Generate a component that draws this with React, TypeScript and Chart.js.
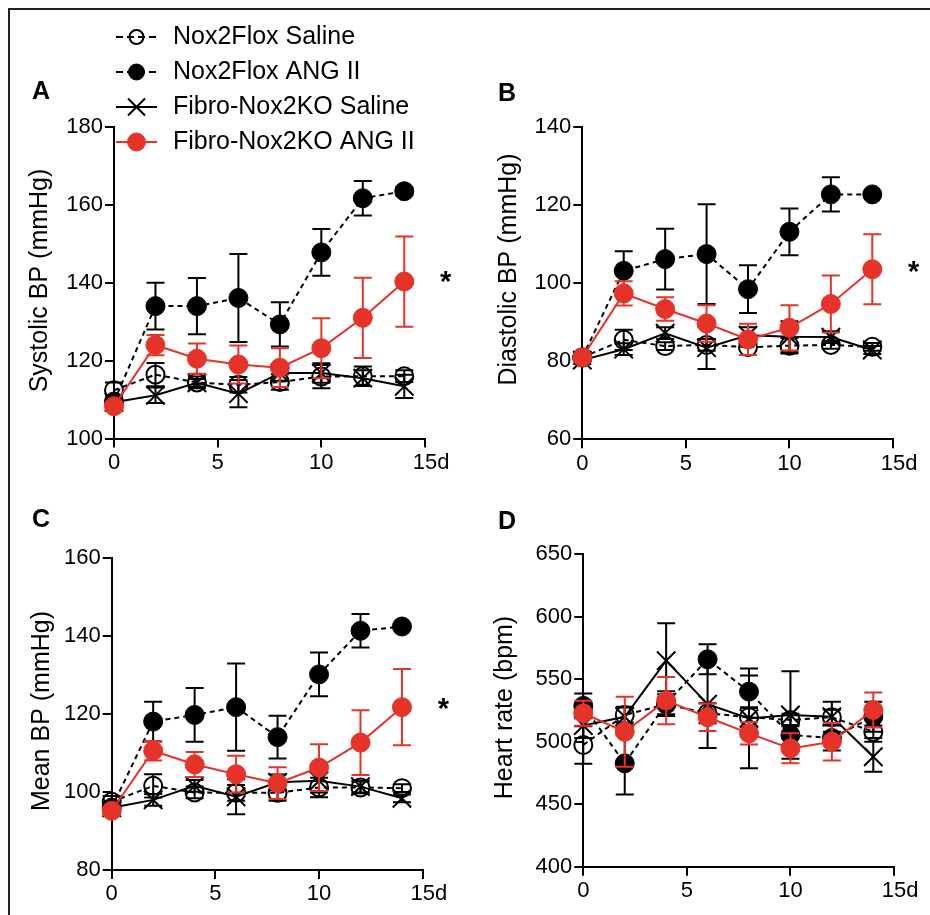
import React, { useEffect, useRef } from "react";
import { Chart, registerables } from "chart.js";

Chart.register(...registerables);

const FONT = '"Liberation Sans", Arial, Helvetica, sans-serif';
const RED = "#e5332a";
const BLACK = "#000000";

// ---------- data ----------
const days = [0, 2, 4, 6, 8, 10, 12, 14];
const seriesNames = ["Nox2Flox Saline", "Nox2Flox ANG II", "Fibro-Nox2KO Saline", "Fibro-Nox2KO ANG II"];
const panelLetters = ["A", "B", "C", "D"];
const yTitles = ["Systolic BP (mmHg)", "Diastolic BP (mmHg)", "Mean BP (mmHg)", "Heart rate (bpm)"];
const yMins = [100, 60, 80, 400];
const yMaxs = [180, 140, 160, 650];
const ySteps = [20, 20, 20, 50];
const xMax = 15;
const xStep = 5;
const xUnit = "d";
const starDay = 16;
const starValues = [142, 104.7, 123, null];

// Panel A: systolic BP
const sbpFloxSaline = [112.4, 116.4, 114.4, 113.8, 114.5, 115.9, 116.0, 116.0];
const sbpFloxSalineErr = [2, 3, 1.5, 2, 2, 3, 2.5, 1.5];
const sbpFloxAng = [109.5, 134.0, 134.0, 136.1, 129.3, 147.8, 161.7, 163.5];
const sbpFloxAngErr = [1.5, 6, 7.2, 11.3, 5.7, 6, 4.4, 1];
const sbpKoSaline = [109.3, 111.1, 114.3, 111.5, 116.8, 116.8, 115.5, 113.4];
const sbpKoSalineErr = [1, 2, 1, 3.5, 2, 2.5, 2, 3];
const sbpKoAng = [108.3, 124.0, 120.5, 119.0, 118.2, 123.2, 131.0, 140.3];
const sbpKoAngErr = [1, 2.6, 3.9, 4.9, 5, 7.7, 10.3, 11.6];

// Panel B: diastolic BP
const dbpFloxSaline = [81.0, 85.5, 83.9, 84.2, 83.6, 84.0, 84.2, 83.7];
const dbpFloxSalineErr = [1, 2.6, 1, 1.5, 2, 2, 1, 1];
const dbpFloxAng = [81.0, 103.2, 106.2, 107.5, 98.5, 113.2, 122.8, 122.8];
const dbpFloxAngErr = [1, 5, 7.8, 12.8, 6.1, 6, 4.4, 0.5];
const dbpKoSaline = [80.3, 83.1, 87.2, 83.5, 86.7, 86.3, 86.2, 82.9];
const dbpKoSalineErr = [1, 1.5, 1.5, 5.5, 2, 4, 1.5, 1];
const dbpKoAng = [81.0, 97.4, 93.4, 89.7, 85.6, 88.6, 94.7, 103.6];
const dbpKoAngErr = [1, 3.1, 3, 4.7, 4, 5.8, 7.3, 9];

// Panel C: mean BP
const mbpFloxSaline = [97.5, 101.6, 99.9, 99.8, 99.8, 101.2, 101.2, 101.0];
const mbpFloxSalineErr = [1.5, 3, 1.5, 2, 2, 2.5, 1.5, 1];
const mbpFloxAng = [96.0, 118.1, 119.8, 121.8, 114.1, 130.2, 141.4, 142.5];
const mbpFloxAngErr = [1, 5.1, 6.9, 11.2, 5.5, 5.6, 4.3, 0.5];
const mbpKoSaline = [96.0, 98.0, 101.6, 98.8, 102.5, 102.9, 101.4, 98.4];
const mbpKoSalineErr = [1, 1.5, 1.5, 4.5, 2, 3, 1.5, 1];
const mbpKoAng = [95.2, 110.6, 107.1, 104.6, 102.3, 106.3, 112.7, 121.8];
const mbpKoAngErr = [1, 2.5, 3.2, 4.7, 4.1, 6, 8.3, 9.8];

// Panel D: heart rate
const hrFloxSaline = [497.4, 521.4, 530.0, 522.8, 519.6, 517.4, 519.6, 508.0];
const hrFloxSalineErr = [15, 6, 8, 8, 8, 5, 6, 5];
const hrFloxAng = [528.7, 482.7, 530.5, 566.0, 540.1, 505.4, 503.0, 520.0];
const hrFloxAngErr = [10, 25, 10, 12, 13, 8, 10, 12];
const hrKoSaline = [513.0, 520.0, 564.9, 530.0, 518.7, 521.4, 520.0, 488.0];
const hrKoSalineErr = [10, 8, 30, 35, 40, 35, 12, 12];
const hrKoAng = [522.8, 508.0, 532.9, 519.6, 506.7, 494.7, 500.0, 525.4];
const hrKoAngErr = [10, 28, 19, 11, 9, 12, 15, 14];

const panelValues = [
  [sbpFloxSaline, sbpFloxAng, sbpKoSaline, sbpKoAng],
  [dbpFloxSaline, dbpFloxAng, dbpKoSaline, dbpKoAng],
  [mbpFloxSaline, mbpFloxAng, mbpKoSaline, mbpKoAng],
  [hrFloxSaline, hrFloxAng, hrKoSaline, hrKoAng],
];
const panelErrors = [
  [sbpFloxSalineErr, sbpFloxAngErr, sbpKoSalineErr, sbpKoAngErr],
  [dbpFloxSalineErr, dbpFloxAngErr, dbpKoSalineErr, dbpKoAngErr],
  [mbpFloxSalineErr, mbpFloxAngErr, mbpKoSalineErr, mbpKoAngErr],
  [hrFloxSalineErr, hrFloxAngErr, hrKoSalineErr, hrKoAngErr],
];

// ---------- styles / layout ----------
type SeriesStyle = {
  color: string;
  dash: number[];
  pointStyle: string;
  radius: number;
  fill: string;
  pbw: number;
  order: number;
  legendRadius: number;
};
const seriesStyles: SeriesStyle[] = [
  { color: BLACK, dash: [5, 4], pointStyle: "circle", radius: 9, fill: "rgba(0,0,0,0)", pbw: 2, order: 3, legendRadius: 7 },
  { color: BLACK, dash: [5, 4], pointStyle: "circle", radius: 9.5, fill: BLACK, pbw: 1, order: 1, legendRadius: 8 },
  { color: BLACK, dash: [], pointStyle: "crossRot", radius: 13, fill: BLACK, pbw: 2, order: 2, legendRadius: 12 },
  { color: RED, dash: [], pointStyle: "circle", radius: 9.5, fill: RED, pbw: 1, order: 0, legendRadius: 9 },
];

type Geo = {
  left: number; top: number; w: number; h: number;
  yW: number; padTop: number; padRight: number; padBottom: number;
  titleX: number; titleY: number; letterX: number; letterY: number;
};
const geos: Geo[] = [
  { left: 0, top: 0, w: 465, h: 500, yW: 114, padTop: 127, padRight: 40, padBottom: 21.5, titleX: 40, titleY: 280.5, letterX: 41, letterY: 92 },
  { left: 465, top: 0, w: 465, h: 500, yW: 117.3, padTop: 127.3, padRight: 37, padBottom: 20.7, titleX: 44.5, titleY: 269.5, letterX: 42, letterY: 94 },
  { left: 0, top: 470, w: 465, h: 445, yW: 111.7, padTop: 88.3, padRight: 42.3, padBottom: 5, titleX: 42.5, titleY: 241, letterX: 41, letterY: 50 },
  { left: 465, top: 470, w: 465, h: 445, yW: 118.3, padTop: 84.3, padRight: 36, padBottom: 8.3, titleX: 40, titleY: 237.5, letterX: 42, letterY: 52 },
];
const X_AXIS_H = 40;
const legendRows = [37, 72, 107, 142];

function drawMarker(ctx: CanvasRenderingContext2D, st: SeriesStyle, x: number, y: number, r: number) {
  ctx.save();
  ctx.setLineDash([]);
  ctx.strokeStyle = st.color;
  ctx.fillStyle = st.fill;
  ctx.lineWidth = st.pbw;
  if (st.pointStyle === "crossRot") {
    const o = r * Math.SQRT1_2;
    ctx.beginPath();
    ctx.moveTo(x - o, y - o);
    ctx.lineTo(x + o, y + o);
    ctx.moveTo(x - o, y + o);
    ctx.lineTo(x + o, y - o);
    ctx.stroke();
  } else {
    ctx.beginPath();
    ctx.arc(x, y, r, 0, Math.PI * 2);
    ctx.fill();
    ctx.stroke();
  }
  ctx.restore();
}

const errorBarPlugin = {
  id: "errorBars",
  beforeDatasetDraw(chart: any, args: any) {
    const ds = chart.data.datasets[args.index];
    const errs: number[] | undefined = ds.errors;
    if (!errs) return;
    const xs = chart.scales.x;
    const ys = chart.scales.y;
    const ctx: CanvasRenderingContext2D = chart.ctx;
    ctx.save();
    ctx.strokeStyle = ds.borderColor;
    ctx.lineWidth = 2;
    ctx.setLineDash([]);
    ds.data.forEach((pt: any, i: number) => {
      const e = errs[i];
      if (!e) return;
      const x = xs.getPixelForValue(pt.x);
      const y1 = ys.getPixelForValue(pt.y + e);
      const y2 = ys.getPixelForValue(pt.y - e);
      ctx.beginPath();
      ctx.moveTo(x, y1);
      ctx.lineTo(x, y2);
      ctx.moveTo(x - 9, y1);
      ctx.lineTo(x + 9, y1);
      ctx.moveTo(x - 9, y2);
      ctx.lineTo(x + 9, y2);
      ctx.stroke();
    });
    ctx.restore();
  },
};

const decoPlugin = {
  id: "deco",
  afterDraw(chart: any, _args: any, opts: any) {
    const ctx: CanvasRenderingContext2D = chart.ctx;
    ctx.save();
    ctx.fillStyle = BLACK;
    ctx.textBaseline = "middle";
    ctx.textAlign = "center";
    // panel letter
    ctx.font = `bold 25px ${FONT}`;
    ctx.fillText(opts.letter, opts.letterX, opts.letterY);
    // y-axis title
    ctx.save();
    ctx.font = `25px ${FONT}`;
    ctx.translate(opts.titleX, opts.titleY);
    ctx.rotate(-Math.PI / 2);
    ctx.fillText(opts.title, 0, 0);
    ctx.restore();
    // significance star
    if (opts.star !== null && opts.star !== undefined) {
      ctx.font = `bold 29px ${FONT}`;
      const x = chart.scales.x.getPixelForValue(starDay);
      const y = chart.scales.y.getPixelForValue(opts.star);
      ctx.fillText("*", x, y + 8);
    }
    // legend
    if (opts.legend) {
      ctx.font = `25px ${FONT}`;
      ctx.textAlign = "left";
      seriesNames.forEach((name, k) => {
        const st = seriesStyles[k];
        const y = legendRows[k];
        ctx.save();
        ctx.strokeStyle = st.color;
        ctx.lineWidth = 2;
        ctx.setLineDash(st.dash.length ? [7, 4] : []);
        ctx.beginPath();
        ctx.moveTo(116, y);
        ctx.lineTo(157, y);
        ctx.stroke();
        ctx.restore();
        drawMarker(ctx, st, 136.5, y, st.legendRadius);
        ctx.fillStyle = BLACK;
        ctx.fillText(name, 173, y);
      });
    }
    ctx.restore();
  },
};

function buildConfig(idx: number): any {
  const g = geos[idx];
  const datasets = seriesNames.map((name, k) => {
    const st = seriesStyles[k];
    return {
      label: name,
      data: days.map((d, i) => ({ x: d, y: panelValues[idx][k][i] })),
      errors: panelErrors[idx][k],
      borderColor: st.color,
      borderWidth: 2,
      borderDash: st.dash,
      tension: 0,
      fill: false,
      pointStyle: st.pointStyle,
      pointRadius: st.radius,
      pointHoverRadius: st.radius,
      pointBackgroundColor: st.fill,
      pointBorderColor: st.color,
      pointBorderWidth: st.pbw,
      order: st.order,
      clip: false,
    };
  });
  const tickFont = { family: FONT, size: 22 };
  return {
    type: "line",
    data: { datasets },
    plugins: [errorBarPlugin, decoPlugin],
    options: {
      responsive: false,
      animation: false,
      events: [],
      layout: { padding: { top: g.padTop, right: g.padRight, bottom: g.padBottom, left: 0 } },
      plugins: {
        legend: { display: false },
        tooltip: { enabled: false },
        deco: {
          letter: panelLetters[idx],
          letterX: g.letterX,
          letterY: g.letterY,
          title: yTitles[idx],
          titleX: g.titleX,
          titleY: g.titleY,
          star: starValues[idx],
          legend: idx === 0,
        },
      },
      scales: {
        x: {
          type: "linear",
          min: 0,
          max: xMax,
          afterFit: (s: any) => { s.height = X_AXIS_H; },
          ticks: {
            stepSize: xStep,
            autoSkip: false,
            maxRotation: 0,
            padding: 2,
            color: BLACK,
            font: tickFont,
            callback: (v: number) => (v === xMax ? `  ${v}${xUnit}` : String(v)),
          },
          grid: { display: true, drawOnChartArea: false, drawTicks: true, tickLength: 9, lineWidth: 2, color: BLACK },
          border: { display: true, width: 2, color: BLACK },
        },
        y: {
          type: "linear",
          min: yMins[idx],
          max: yMaxs[idx],
          afterFit: (s: any) => { s.width = g.yW; },
          ticks: {
            stepSize: ySteps[idx],
            autoSkip: false,
            padding: 2,
            color: BLACK,
            font: tickFont,
          },
          title: { display: false },
          grid: { display: true, drawOnChartArea: false, drawTicks: true, tickLength: 9, lineWidth: 2, color: BLACK },
          border: { display: true, width: 2, color: BLACK },
        },
      },
    },
  };
}

function Panel({ idx }: { idx: number }) {
  const ref = useRef<HTMLCanvasElement | null>(null);
  useEffect(() => {
    if (!ref.current) return;
    const chart = new Chart(ref.current, buildConfig(idx));
    return () => chart.destroy();
  }, [idx]);
  const g = geos[idx];
  return (
    <canvas
      ref={ref}
      width={g.w}
      height={g.h}
      style={{ position: "absolute", left: g.left, top: g.top, width: g.w, height: g.h }}
    />
  );
}

export default function App() {
  return (
    <div style={{ position: "absolute", left: 0, top: 0, width: 930, height: 915, background: "#fff", overflow: "hidden" }}>
      {[0, 1, 2, 3].map((i) => (
        <Panel key={i} idx={i} />
      ))}
      <div style={{ position: "absolute", left: 8, top: 8, width: 922, height: 2, background: "#222" }} />
      <div style={{ position: "absolute", left: 8, top: 8, width: 2, height: 907, background: "#222" }} />
    </div>
  );
}
